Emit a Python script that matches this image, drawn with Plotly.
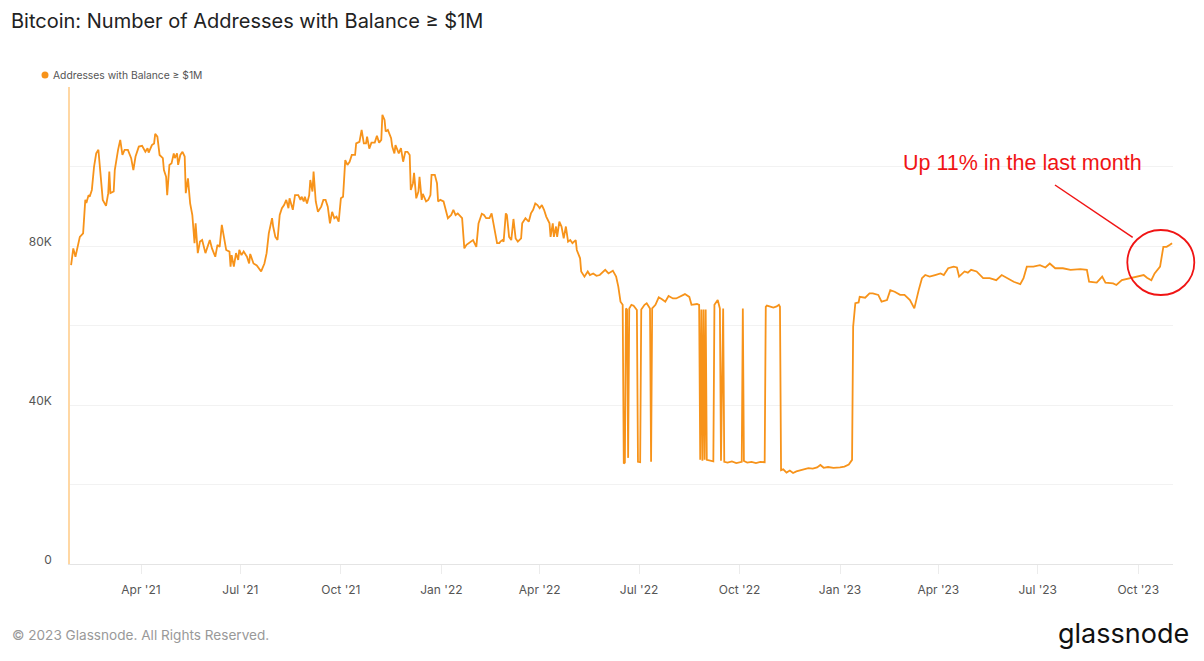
import plotly.graph_objects as go

SERIES_NAME = "Addresses with Balance ≥ $1M"
TITLE = "Bitcoin: Number of Addresses with Balance ≥ $1M"
NOTE = "Up 11% in the last month"
FOOTER = "© 2023 Glassnode. All Rights Reserved."
BRAND = "glassnode"

# values in thousands of addresses
dates_2021 = [
    "2021-01-27", "2021-01-29", "2021-01-31", "2021-02-02", "2021-02-04", "2021-02-07", "2021-02-09", "2021-02-10",
    "2021-02-12", "2021-02-13", "2021-02-15", "2021-02-17", "2021-02-19", "2021-02-21", "2021-02-22", "2021-02-24",
    "2021-02-25", "2021-02-28", "2021-03-02", "2021-03-03", "2021-03-04", "2021-03-07", "2021-03-08", "2021-03-11",
    "2021-03-13", "2021-03-15", "2021-03-17", "2021-03-20", "2021-03-23", "2021-03-25", "2021-03-27", "2021-03-30",
    "2021-04-02", "2021-04-05", "2021-04-07", "2021-04-08", "2021-04-11", "2021-04-13", "2021-04-14", "2021-04-16",
    "2021-04-18", "2021-04-21", "2021-04-22", "2021-04-24", "2021-04-25", "2021-04-27", "2021-04-29", "2021-05-01",
    "2021-05-02", "2021-05-04", "2021-05-05", "2021-05-07", "2021-05-09", "2021-05-11", "2021-05-12", "2021-05-14",
    "2021-05-16", "2021-05-18", "2021-05-20", "2021-05-21", "2021-05-23", "2021-05-25", "2021-05-27", "2021-05-30",
    "2021-06-01", "2021-06-03", "2021-06-05", "2021-06-08", "2021-06-10", "2021-06-12", "2021-06-14", "2021-06-16",
    "2021-06-18", "2021-06-21", "2021-06-22", "2021-06-23", "2021-06-25", "2021-06-27", "2021-06-29", "2021-06-30",
    "2021-07-02", "2021-07-04", "2021-07-07", "2021-07-09", "2021-07-10", "2021-07-13", "2021-07-16", "2021-07-20",
    "2021-07-23", "2021-07-25", "2021-07-27", "2021-07-30", "2021-07-31", "2021-08-02", "2021-08-04", "2021-08-06",
    "2021-08-08", "2021-08-10", "2021-08-12", "2021-08-14", "2021-08-15", "2021-08-18", "2021-08-20", "2021-08-23",
    "2021-08-25", "2021-08-26", "2021-08-28", "2021-08-29", "2021-08-31", "2021-09-02", "2021-09-03", "2021-09-05",
    "2021-09-06", "2021-09-08", "2021-09-10", "2021-09-13", "2021-09-15", "2021-09-17", "2021-09-19", "2021-09-21",
    "2021-09-23", "2021-09-25", "2021-09-27", "2021-09-29", "2021-10-01", "2021-10-03", "2021-10-05", "2021-10-07",
    "2021-10-09", "2021-10-11", "2021-10-14", "2021-10-15", "2021-10-18", "2021-10-20", "2021-10-22", "2021-10-24",
    "2021-10-25", "2021-10-27", "2021-10-29", "2021-11-01", "2021-11-03", "2021-11-05", "2021-11-07", "2021-11-08",
    "2021-11-10", "2021-11-11", "2021-11-13", "2021-11-16", "2021-11-17", "2021-11-19", "2021-11-20", "2021-11-23",
    "2021-11-25", "2021-11-27", "2021-11-29", "2021-12-01", "2021-12-03", "2021-12-04", "2021-12-06", "2021-12-07",
    "2021-12-09", "2021-12-11", "2021-12-12", "2021-12-14", "2021-12-15", "2021-12-18", "2021-12-20", "2021-12-22",
    "2021-12-23", "2021-12-26", "2021-12-28", "2021-12-29", "2021-12-31",
]
values_2021 = [
    75.2, 79.4, 77.3, 79.8, 82.3, 83.2, 91.6, 90.8,
    92.8, 92.4, 94.1, 99.9, 103.3, 104.2, 100.8, 94.1,
    91.6, 90.1, 93.3, 98.7, 93.3, 93.7, 99.1, 104.2,
    106.7, 102.9, 104.2, 104.2, 102.1, 99.1, 102.5, 105.0,
    105.2, 103.7, 104.6, 103.5, 105.4, 105.8, 108.2, 107.5,
    102.9, 102.1, 99.1, 97.4, 92.8, 100.4, 100.8, 103.3,
    102.1, 103.3, 100.4, 102.9, 103.7, 102.5, 93.3, 97.0,
    90.7, 87.8, 80.7, 85.7, 78.2, 81.1, 81.5, 78.2,
    79.8, 81.5, 79.4, 77.3, 80.3, 79.8, 85.3, 81.5,
    79.0, 78.6, 74.8, 77.7, 74.8, 78.2, 76.5, 79.0,
    77.7, 78.6, 77.3, 75.6, 78.0, 75.6, 75.1, 73.6,
    75.6, 78.2, 83.2, 87.0, 84.9, 82.3, 81.5, 87.8,
    89.5, 90.3, 91.6, 89.5, 92.0, 89.1, 92.8, 92.8,
    91.6, 92.4, 91.2, 92.4, 90.7, 92.8, 96.6, 93.7,
    98.7, 91.2, 88.6, 89.9, 91.6, 91.6, 89.9, 85.7,
    88.6, 87.0, 87.4, 86.1, 92.0, 92.4, 101.6, 100.4,
    101.2, 102.9, 102.9, 105.8, 106.2, 109.2, 105.8, 105.8,
    107.5, 104.5, 106.0, 106.0, 107.7, 106.0, 106.7, 113.0,
    111.7, 108.8, 109.2, 107.1, 105.0, 103.3, 105.4, 103.3,
    104.6, 101.2, 103.7, 103.7, 102.9, 94.1, 95.8, 98.4,
    92.0, 93.7, 97.4, 91.6, 93.1, 91.2, 91.6, 92.8,
    97.9, 97.9, 95.8, 91.2, 91.6,
]

dates_2022 = [
    "2022-01-03", "2022-01-05", "2022-01-07", "2022-01-10", "2022-01-12", "2022-01-14", "2022-01-16", "2022-01-20",
    "2022-01-22", "2022-01-24", "2022-01-27", "2022-01-30", "2022-02-02", "2022-02-04", "2022-02-07", "2022-02-09",
    "2022-02-11", "2022-02-14", "2022-02-16", "2022-02-18", "2022-02-21", "2022-02-23", "2022-02-24", "2022-02-26",
    "2022-02-27", "2022-03-01", "2022-03-02", "2022-03-04", "2022-03-06", "2022-03-08", "2022-03-10", "2022-03-12",
    "2022-03-15", "2022-03-16", "2022-03-19", "2022-03-22", "2022-03-24", "2022-03-26", "2022-03-28", "2022-03-30",
    "2022-04-01", "2022-04-03", "2022-04-05", "2022-04-07", "2022-04-10", "2022-04-11", "2022-04-13", "2022-04-14",
    "2022-04-16", "2022-04-17", "2022-04-19", "2022-04-21", "2022-04-23", "2022-04-25", "2022-04-27", "2022-04-29",
    "2022-05-01", "2022-05-04", "2022-05-05", "2022-05-08", "2022-05-09", "2022-05-12", "2022-05-15", "2022-05-17",
    "2022-05-20", "2022-05-23", "2022-05-26", "2022-05-31", "2022-06-03", "2022-06-07", "2022-06-10", "2022-06-12",
    "2022-06-14", "2022-06-16", "2022-06-17", "2022-06-18", "2022-06-19", "2022-06-20", "2022-06-21", "2022-06-22",
    "2022-06-24", "2022-06-26", "2022-06-29", "2022-06-30", "2022-07-02", "2022-07-03", "2022-07-06", "2022-07-08",
    "2022-07-11", "2022-07-12", "2022-07-13", "2022-07-16", "2022-07-19", "2022-07-22", "2022-07-25", "2022-07-28",
    "2022-08-01", "2022-08-04", "2022-08-07", "2022-08-12", "2022-08-16", "2022-08-18", "2022-08-23", "2022-08-25",
    "2022-08-26", "2022-08-27", "2022-08-28", "2022-08-29", "2022-08-30", "2022-08-31", "2022-09-01", "2022-09-04",
    "2022-09-07", "2022-09-08", "2022-09-11", "2022-09-13", "2022-09-14", "2022-09-16", "2022-09-17", "2022-09-20",
    "2022-09-24", "2022-09-28", "2022-10-03", "2022-10-04", "2022-10-05", "2022-10-08", "2022-10-12", "2022-10-16",
    "2022-10-20", "2022-10-24", "2022-10-25", "2022-10-26", "2022-10-29", "2022-11-01", "2022-11-04", "2022-11-06",
    "2022-11-07", "2022-11-08", "2022-11-10", "2022-11-13", "2022-11-16", "2022-11-19", "2022-11-22", "2022-11-26",
    "2022-11-30", "2022-12-03", "2022-12-07", "2022-12-11", "2022-12-14", "2022-12-17", "2022-12-21", "2022-12-26",
]
values_2022 = [
    91.2, 89.1, 87.0, 87.8, 89.1, 87.8, 88.2, 87.0,
    79.4, 80.3, 80.8, 81.5, 79.8, 85.7, 88.1, 87.8,
    87.0, 87.0, 88.2, 85.3, 80.7, 80.7, 81.1, 81.5,
    81.1, 88.2, 87.8, 82.3, 81.5, 86.8, 81.9, 81.1,
    81.9, 85.7, 87.0, 86.1, 88.2, 89.1, 90.7, 90.3,
    89.5, 90.3, 89.1, 87.4, 85.7, 82.3, 85.7, 82.3,
    84.9, 82.3, 86.1, 84.9, 81.9, 84.9, 81.1, 81.5,
    80.7, 81.5, 79.0, 76.9, 73.6, 72.3, 73.6, 72.7,
    73.1, 72.5, 72.7, 74.0, 73.1, 73.8, 72.3, 69.8,
    66.0, 65.2, 25.3, 25.5, 64.3, 64.0, 26.7, 64.3,
    65.2, 65.0, 63.9, 25.7, 25.6, 64.0, 65.2, 65.6,
    64.3, 25.7, 64.3, 65.2, 67.1, 66.6, 66.0, 67.4,
    66.8, 66.8, 67.2, 67.9, 67.2, 65.2, 65.4, 65.2,
    26.2, 64.0, 26.0, 64.0, 26.2, 64.0, 26.2, 25.9,
    25.8, 65.2, 66.4, 64.3, 26.0, 64.3, 25.7, 25.5,
    25.8, 25.4, 25.7, 64.3, 25.9, 25.5, 25.7, 25.4,
    25.7, 25.6, 64.7, 65.0, 64.7, 64.5, 64.8, 65.2,
    64.7, 23.6, 23.8, 23.0, 23.5, 22.9, 23.3, 23.6,
    23.8, 24.1, 24.0, 24.3, 24.9, 24.2, 24.4, 24.2,
]

dates_2023 = [
    "2023-01-01", "2023-01-05", "2023-01-09", "2023-01-12", "2023-01-13", "2023-01-15", "2023-01-18", "2023-01-19",
    "2023-01-24", "2023-01-28", "2023-01-31", "2023-02-05", "2023-02-08", "2023-02-13", "2023-02-16", "2023-02-20",
    "2023-02-25", "2023-03-01", "2023-03-06", "2023-03-10", "2023-03-14", "2023-03-17", "2023-03-20", "2023-03-24",
    "2023-03-29", "2023-04-03", "2023-04-06", "2023-04-10", "2023-04-15", "2023-04-18", "2023-04-20", "2023-04-25",
    "2023-04-28", "2023-05-01", "2023-05-06", "2023-05-12", "2023-05-18", "2023-05-24", "2023-05-29", "2023-06-03",
    "2023-06-09", "2023-06-15", "2023-06-18", "2023-06-21", "2023-06-27", "2023-07-03", "2023-07-08", "2023-07-12",
    "2023-07-17", "2023-07-24", "2023-07-31", "2023-08-09", "2023-08-15", "2023-08-17", "2023-08-24", "2023-08-29",
    "2023-09-01", "2023-09-08", "2023-09-11", "2023-09-16", "2023-09-23", "2023-09-30", "2023-10-06", "2023-10-09",
    "2023-10-13", "2023-10-16", "2023-10-21", "2023-10-24", "2023-10-27", "2023-10-30", "2023-11-01",
]
values_2023 = [
    24.3, 24.5, 25.0, 26.2, 59.7, 65.6, 65.8, 67.2,
    67.0, 68.1, 68.1, 67.7, 66.0, 66.4, 68.9, 68.5,
    67.7, 67.7, 66.4, 64.3, 68.9, 71.9, 72.7, 72.3,
    72.7, 73.1, 72.7, 74.4, 74.8, 74.6, 72.3, 73.6,
    73.3, 74.0, 73.6, 71.9, 71.9, 71.4, 72.7, 71.9,
    71.0, 70.4, 71.9, 74.8, 74.8, 75.2, 74.6, 75.6,
    74.4, 74.4, 74.0, 74.2, 74.0, 71.0, 70.8, 72.3,
    70.8, 70.6, 70.2, 71.4, 71.9, 72.3, 72.7, 72.0,
    71.4, 73.1, 74.8, 79.8, 79.8, 80.3, 80.7,
]

x_tick_dates = ["2021-04-01", "2021-07-01", "2021-10-01", "2022-01-01", "2022-04-01", "2022-07-01",
                "2022-10-01", "2023-01-01", "2023-04-01", "2023-07-01", "2023-10-01"]
y_tick_vals = [0, 40, 80, 120]
y_tick_text = ["0", "40K", "80K", ""]
y_minor_vals = [20, 60, 100]

dates = dates_2021 + dates_2022 + dates_2023
values = values_2021 + values_2022 + values_2023

ORANGE = "#f7931a"
RED = "#f01414"
FONT = "Inter"

# the page body has an 8px margin, so the figure starts at (8, 8) on the page
OFF = 8
W, H = 1188, 645
PLOT_L, PLOT_R, PLOT_T, PLOT_B = 70, 1173, 87, 564  # page pixels
ML, MT = PLOT_L - OFF, PLOT_T - OFF
MR, MB = (W + OFF) - PLOT_R, (H + OFF) - PLOT_B
PW, PH = PLOT_R - PLOT_L, PLOT_B - PLOT_T


def px(xpage):
    return (xpage - PLOT_L) / PW


def py(ypage):
    return (PLOT_B - ypage) / PH


fig = go.Figure()
fig.add_trace(go.Scatter(
    x=dates, y=values, mode="lines", name=SERIES_NAME, showlegend=False,
    line=dict(color=ORANGE, width=1.8),
    hovertemplate="%{x|%b %d, %Y}<br>%{y:.1f}K<extra></extra>",
))

fig.update_layout(
    width=W, height=H,
    margin=dict(l=ML, r=MR, t=MT, b=MB),
    paper_bgcolor="white", plot_bgcolor="white",
    font=dict(family=FONT, color="#555"),
    title=dict(text=TITLE, x=(11 - OFF) / W, xanchor="left", xref="container",
               y=1 - (20.5 - OFF) / H, yref="container", yanchor="middle",
               font=dict(family=FONT, size=20, color="#222")),
    xaxis=dict(
        type="date", range=["2021-01-26", "2023-11-01 20:00"],
        tickvals=x_tick_dates, tickformat="%b '%y",
        showgrid=False, zeroline=False,
        showline=True, linecolor="#e4e4e4", linewidth=1,
        ticks="outside", ticklen=9, tickcolor="#ececec", tickwidth=1,
        ticklabelstandoff=6,
        tickfont=dict(family=FONT, size=12, color="#555"),
    ),
    yaxis=dict(
        range=[0, 120], tickvals=y_tick_vals, ticktext=y_tick_text,
        showgrid=True, gridcolor="#f2f2f2", gridwidth=1, zeroline=False,
        minor=dict(tickvals=y_minor_vals, showgrid=True, gridcolor="#f2f2f2", gridwidth=1),
        showline=True, linecolor="#ffd7a3", linewidth=1.5,
        ticks="", ticklabelstandoff=14, ticklabelshift=-4,
        tickfont=dict(family=FONT, size=12, color="#555"),
    ),
)

# legend (dot + label)
fig.add_shape(type="circle", xref="paper", yref="paper",
              x0=px(41.5), x1=px(48.5), y0=py(78.5), y1=py(71.5),
              fillcolor=ORANGE, line=dict(width=0))
fig.add_annotation(text=SERIES_NAME, xref="paper", yref="paper", x=px(51), y=py(75),
                   xanchor="left", yanchor="middle", showarrow=False,
                   font=dict(family=FONT, size=10.3, color="#555"))

# callout
fig.add_annotation(text=NOTE, xref="paper", yref="paper", x=px(1022), y=py(162.5),
                   xanchor="center", yanchor="middle", showarrow=False,
                   font=dict(family="Liberation Sans", size=21.5, color=RED))
fig.add_shape(type="line", xref="paper", yref="paper",
              x0=px(1055), y0=py(185), x1=px(1132.7), y1=py(237.3),
              line=dict(color=RED, width=1.5))
fig.add_shape(type="circle", xref="paper", yref="paper",
              x0=px(1127.3), x1=px(1194.3), y0=py(295), y1=py(230),
              line=dict(color=RED, width=1.8))

# footer
fig.add_annotation(text=FOOTER, xref="paper", yref="paper", x=px(10), y=py(635),
                   xanchor="left", yanchor="middle", showarrow=False,
                   font=dict(family=FONT, size=13.6, color="#999"))
fig.add_annotation(text=BRAND, xref="paper", yref="paper", x=px(1191), y=py(633),
                   xanchor="right", yanchor="middle", showarrow=False,
                   font=dict(family=FONT, size=27, color="#111"))

fig.write_html("out.html")
